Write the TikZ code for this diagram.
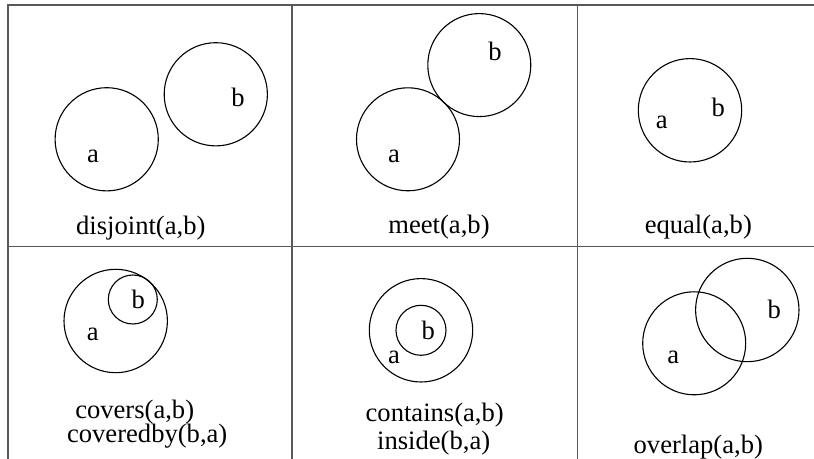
\documentclass[tikz,border=0pt]{standalone}
\usepackage{fontspec}
\setmainfont{Liberation Serif}
\usetikzlibrary{positioning}

\begin{document}
\begin{tikzpicture}[x=0.5pt,y=-0.5pt,
 gridline/.style={draw=black!65,line width=0.9pt},
 region/.style={draw,line width=0.55pt},
 lbl/.style={anchor=base,inner sep=0pt,font=\fontsize{13.3}{15}\selectfont},
 relname/.style={lbl}]
 \useasboundingbox (0,0) rectangle (814,459);
 % table
 \draw[gridline] (814,5) -- (8,5) -- (8,459);
 \draw[gridline] (8,246.5) -- (814,246.5);
 \draw[gridline] (292,5) -- (292,459);
 \draw[gridline] (577.5,5) -- (577.5,459);
 % disjoint
 \draw[region] (106.7,139.3) circle[radius=51.6];
 \draw[region] (215.8,94.3) circle[radius=51.6];
 \node[lbl] (dja) at (93,162.3) {a};
 \node[lbl] (djb) at (238,106.7) {b};
 \node[relname] (dj) at (140.8,235) {disjoint(a,b)};
 % meet
 \draw[region] (408,139.3) circle[radius=51.5];
 \draw[region] (479.3,65.1) circle[radius=51.5];
 \node[lbl] (mta) at (394,162.3) {a};
 \node[lbl] (mtb) at (495,61) {b};
 \node[relname] (mt) at (439,234) {meet(a,b)};
 % equal
 \draw[region] (690,110.3) circle[radius=51.7];
 \node[lbl] (eqa) at (661.7,128.3) {a};
 \node[lbl] (eqb) at (718.3,116.7) {b};
 \node[relname] (eq) at (698.3,233.5) {equal(a,b)};
 % covers
 \draw[region] (115.7,321) circle[radius=51.7];
 \draw[region] (132.8,299.5) circle[radius=24.5];
 \node[lbl] (cva) at (92.7,340.7) {a};
 \node[lbl] (cvb) at (138.3,308.3) {b};
 \node[relname] (cv) at (134.7,418.3) {covers(a,b)};
 \node[relname] (cvby) at (147.2,443) {coveredby(b,a)};
 % contains
 \draw[region] (421,330.3) circle[radius=51.7];
 \draw[region] (421,330.3) circle[radius=25];
 \node[lbl] (cta) at (394,364) {a};
 \node[lbl] (ctb) at (428.3,340) {b};
 \node[relname] (ct) at (434.7,421.7) {contains(a,b)};
 \node[relname] (ins) at (433.7,449.3) {inside(b,a)};
 % overlap
 \draw[region] (694.2,343.3) circle[radius=51.5];
 \draw[region] (747.3,310) circle[radius=51.7];
 \node[lbl] (ova) at (673.3,364) {a};
 \node[lbl] (ovb) at (774.3,318.7) {b};
 \node[relname] (ov) at (698.3,453.3) {overlap(a,b)};
\end{tikzpicture}
\end{document}
